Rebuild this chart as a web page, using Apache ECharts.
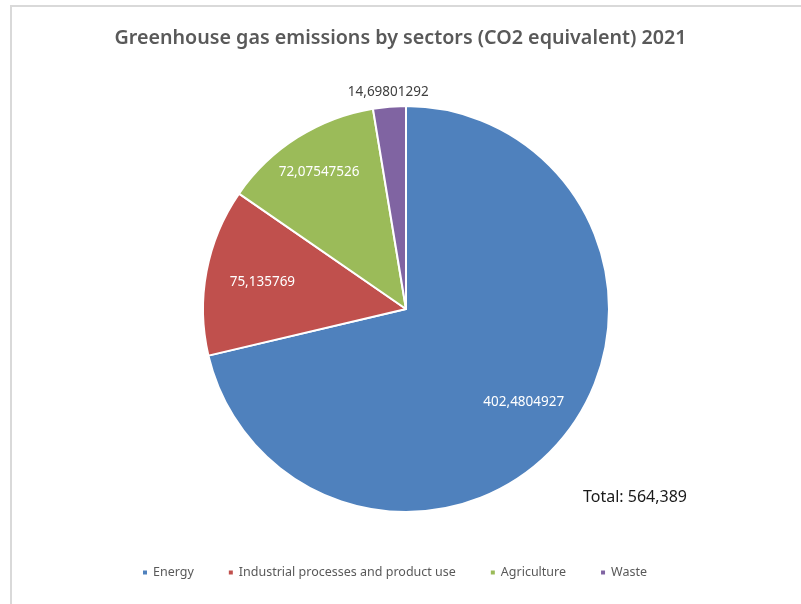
<!DOCTYPE html>
<html>
<head>
<meta charset="utf-8">
<script src="https://cdn.jsdelivr.net/npm/echarts@6/dist/echarts.min.js"></script>
<style>
  html, body { margin: 0; padding: 0; background: #fff; }
  #chart { width: 801px; height: 604px; }
</style>
</head>
<body>
<div id="chart"></div>
<script>
// data
const sectors = ['Energy', 'Industrial processes and product use', 'Agriculture', 'Waste'];
const emissions = [402.4804927, 75.135769, 72.07547526, 14.69801292];
const totalText = 'Total: 564,389';

const colors = ['#4F81BD', '#C0504D', '#9BBB59', '#8064A2'];
// how far out each label sits, as a share of the radius
const labelReach = [0.74, 0.72, 0.80, 1.07];
const labelColors = ['#ffffff', '#ffffff', '#ffffff', '#404040'];

const cx = 406, cy = 309, R = 203;

const chart = echarts.init(document.getElementById('chart'));

const option = {
  backgroundColor: '#ffffff',
  color: colors,
  animation: false,
  title: {
    text: 'Greenhouse gas emissions by sectors (CO2 equivalent) 2021',
    left: 'center',
    top: 23,
    textStyle: {
      fontFamily: 'Noto Sans',
      fontSize: 19.7,
      fontWeight: 600,
      color: '#595959'
    }
  },
  legend: {
    data: sectors,
    left: 136,
    top: 561,
    icon: 'rect',
    itemWidth: 6,
    itemHeight: 6,
    itemGap: 33,
    textStyle: {
      fontFamily: 'Noto Sans',
      fontSize: 12.5,
      color: '#595959'
    }
  },
  graphic: [
    {
      type: 'rect',
      shape: { x: 11, y: 6, width: 1000, height: 1000 },
      style: { fill: 'none', stroke: '#d9d9d9', lineWidth: 2 },
      silent: true
    },
    {
      type: 'text',
      left: 583,
      top: 489,
      style: {
        text: totalText,
        fontFamily: 'Noto Sans',
        fontSize: 16,
        fill: '#1a1a1a'
      }
    }
  ],
  series: [
    {
      type: 'pie',
      center: [cx, cy],
      radius: R,
      startAngle: 90,
      clockwise: true,
      avoidLabelOverlap: false,
      itemStyle: { borderColor: '#ffffff', borderWidth: 2 },
      label: {
        position: 'inside',
        fontFamily: 'Noto Sans',
        fontSize: 13.5,
        formatter: p => String(p.value).replace('.', ',')
      },
      labelLine: { show: false },
      // push each label out along its slice's middle
      labelLayout: params => {
        const r = params.labelRect;
        const lx = r.x + r.width / 2, ly = r.y + r.height / 2;
        const d = Math.hypot(lx - cx, ly - cy) || 1;
        const k = labelReach[params.dataIndex] * R / d - 1;
        return { dx: (lx - cx) * k, dy: (ly - cy) * k };
      },
      emphasis: { disabled: true },
      data: sectors.map((name, i) => ({
        name: name,
        value: emissions[i],
        label: { color: labelColors[i] }
      }))
    }
  ]
};

chart.setOption(option);
</script>
</body>
</html>
